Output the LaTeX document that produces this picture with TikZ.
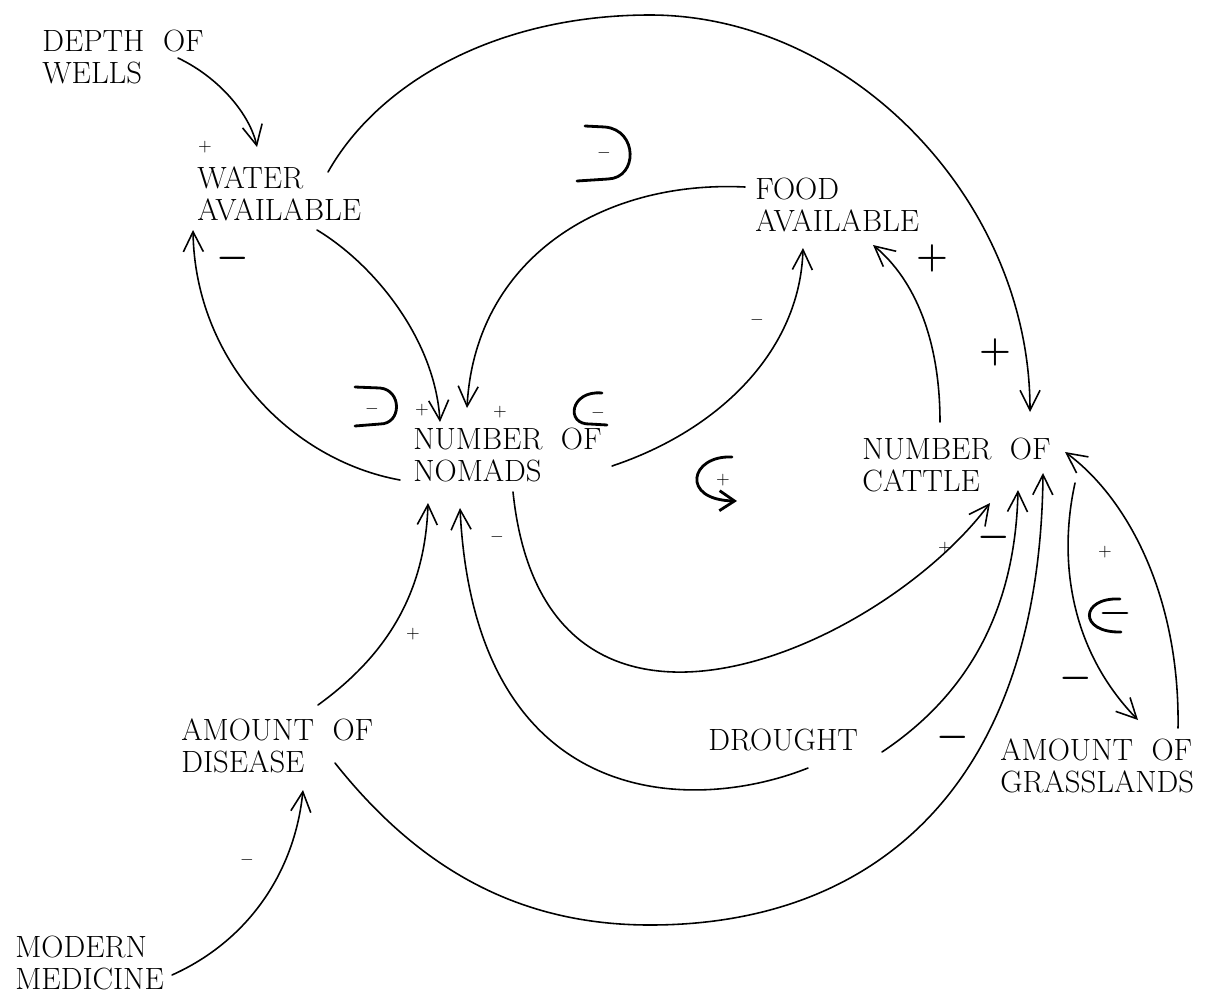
\documentclass[tikz,border=0pt]{standalone}
\usepackage{amsmath}
\usetikzlibrary{arrows.meta}

\begin{document}
\begin{tikzpicture}[x=0.02cm,y=-0.02cm,>={Straight Barb[length=4mm,width=4mm]},line cap=round,
  var/.style={anchor=north west,inner sep=0pt,align=left,font=\fontsize{17.5}{18.2}\selectfont,
    execute at begin node={\spaceskip=0.6em\relax}},
  link/.style={->,line width=0.9pt},
  sgn/.style={inner sep=0pt,font=\fontsize{10}{10}\selectfont},
  hsgn/.style={inner sep=0pt,font=\fontsize{20}{20}\selectfont\boldmath},
  loopmark/.style={line width=1.6pt}]
\useasboundingbox (0,0) rectangle (1206,994);
% variables
\node[var] (wells) at (42,30) {DEPTH OF\\WELLS};
\node[var] (water) at (197,166) {WATER\\AVAILABLE};
\node[var] (food) at (755,178) {FOOD\\AVAILABLE};
\node[var] (nomads) at (413,428) {NUMBER OF\\NOMADS};
\node[var] (cattle) at (862,438) {NUMBER OF\\CATTLE};
\node[var] (disease) at (181,718) {AMOUNT OF\\DISEASE};
\node[var] (drought) at (708,729) {DROUGHT};
\node[var] (grass) at (1000,738) {AMOUNT OF\\GRASSLANDS};
\node[var] (medicine) at (15,936) {MODERN\\MEDICINE};
% links
\draw[link] ([shift={(136,28)}]wells.north west) .. controls (220,78) and (250,115) .. ([shift={(60,-19)}]water.north west);
\draw[link] ([shift={(120,64)}]water.north west) .. controls (375,265) and (435,340) .. ([shift={(27,-6)}]nomads.north west);
\draw[link] ([shift={(-13,52)}]nomads.north west) .. controls (290,460) and (195,360) .. ([shift={(-4,64)}]water.north west);
\draw[link] ([shift={(131,6)}]water.north west) .. controls (380,80) and (500,15) .. (650,15)
  .. controls (850,15) and (1030,200) .. ([shift={(168,-26)}]cattle.north west);
\draw[link] ([shift={(-10,9)}]food.north west) .. controls (600,180) and (475,260) .. ([shift={(54,-20)}]nomads.north west);
\draw[link] ([shift={(199,38)}]nomads.north west) .. controls (720,430) and (800,350) .. ([shift={(48,70)}]food.north west);
\draw[link] ([shift={(78,-16)}]cattle.north west) .. controls (940,340) and (915,280) .. ([shift={(118,67)}]food.north west);
\draw[link] ([shift={(100,64)}]nomads.north west) .. controls (545,800) and (880,650) .. ([shift={(128,65)}]cattle.north west);
\draw[link] ([shift={(100,39)}]drought.north west) .. controls (690,815) and (475,810) .. ([shift={(47,80)}]nomads.north west);
\draw[link] ([shift={(174,23)}]drought.north west) .. controls (960,700) and (1015,620) .. ([shift={(156,52)}]cattle.north west);
\draw[link] ([shift={(154,45)}]disease.north west) .. controls (420,870) and (520,925) .. (650,925)
  .. controls (880,925) and (1040,780) .. ([shift={(181,35)}]cattle.north west);
\draw[link] ([shift={(213,45)}]cattle.north west) .. controls (1058,560) and (1070,650) .. ([shift={(138,-18)}]grass.north west);
\draw[link] ([shift={(178,-10)}]grass.north west) .. controls (1180,600) and (1130,500) .. ([shift={(203,14)}]cattle.north west);
\draw[link] ([shift={(137,-13)}]disease.north west) .. controls (380,660) and (425,600) .. ([shift={(15,75)}]nomads.north west);
\draw[link] ([shift={(157,39)}]medicine.north west) .. controls (250,940) and (295,870) .. ([shift={(122,72)}]disease.north west);
% signs
\foreach \i/\p/\s in {1/{205,147}/+,2/{422,410}/+,3/{500,412}/+,4/{757,320}/-,5/{497,537}/-,
  6/{413,634}/+,7/{247,860}/-,8/{945,548}/+,9/{1105,552}/+,10/{372,409}/-,11/{604,153}/-,
  12/{598,413}/-,13/{723,480}/+}
  \node[sgn] (s\i) at (\p) {$\s$};
\foreach \i/\p/\s in {1/{233,258}/-,2/{932,258}/+,3/{995,352}/+,4/{994,537}/-,5/{953,737}/-,6/{1076,678}/-}
  \node[hsgn] (h\i) at (\p) {$\s$};
% loop marks
\draw[loopmark] (355,387) -- (380,388) .. controls (402,390) and (402,424) .. (380,424) -- (355,426);
\draw[loopmark] (585,126) -- (605,127) .. controls (638,130) and (638,178) .. (608,179) -- (577,181);
\draw[loopmark] (602,393) .. controls (570,390) and (565,425) .. (590,424) -- (607,425);
\draw[loopmark,-{Straight Barb[length=3mm,width=4mm]}] (732,457) .. controls (690,455) and (680,500) .. (737,501);
\draw[loopmark] (1120,599) .. controls (1080,597) and (1078,633) .. (1121,632);
\draw[loopmark] (1103,613) -- (1127,613);
\end{tikzpicture}
\end{document}
